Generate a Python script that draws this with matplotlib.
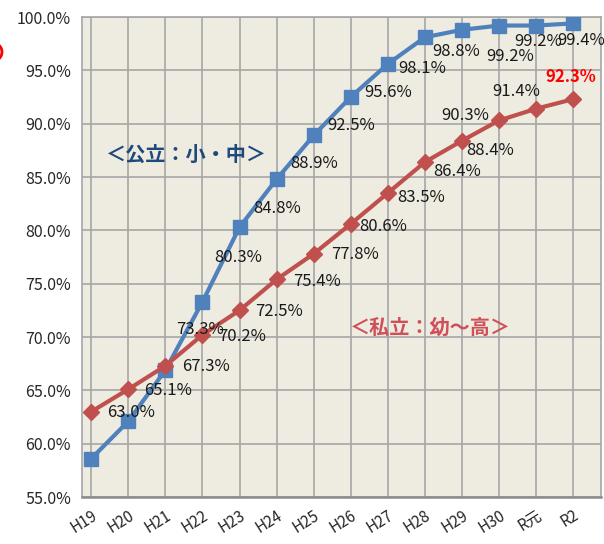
import matplotlib.pyplot as plt
from matplotlib.patches import Circle

plt.rcParams['font.family'] = ['Noto Sans CJK JP', 'DejaVu Sans']

years = ['H19', 'H20', 'H21', 'H22', 'H23', 'H24', 'H25', 'H26', 'H27', 'H28',
         'H29', 'H30', 'R元', 'R2']
public = [58.6, 62.1, 66.9, 73.3, 80.3, 84.8, 88.9, 92.5, 95.6, 98.1, 98.8, 99.2, 99.2, 99.4]
private = [63.0, 65.1, 67.3, 70.2, 72.5, 75.4, 77.8, 80.6, 83.5, 86.4, 88.4, 90.3, 91.4, 92.3]

# label offsets in pixels (dx, dy; dy down in image)
pub_off = [None, None, None, (-2, 28), (-1, 30), (0, 29), (0, 28), (0, 29), (0, 29),
           (-3, 31), (-6, 22), (11, 31), (2, 16), (8, 17)]
priv_off = [(40, 1), (40, 1), (41, 1), (40, 2), (39, 1), (40, 2), (41, 1), (32, 3),
            (33, 5), (32, 9), (28, 10), (-34, -5), (-20, -17), (-2, -22)]

blue = '#4F81BD'
red = '#C0504D'

fig = plt.figure(figsize=(6.04, 5.44), dpi=100)
ax = fig.add_axes([82 / 604, 47 / 544, 519 / 604, 480 / 544])
ax.set_facecolor('#EEECE1')

x = list(range(len(years)))
ax.plot(x, public, color=blue, lw=3, marker='s', ms=9.5, zorder=3)
ax.plot(x, private, color=red, lw=3, marker='D', ms=8, zorder=3)

for i, v in enumerate(public):
    if pub_off[i] is None:
        continue
    dx, dy = pub_off[i]
    ax.annotate(f'{v:.1f}%', (i, v), xytext=(dx, -dy), textcoords='offset pixels',
                ha='center', va='center', fontsize=12, color='#1a1a1a', zorder=4)
for i, v in enumerate(private):
    dx, dy = priv_off[i]
    last = i == len(private) - 1
    ax.annotate(f'{v:.1f}%', (i, v), xytext=(dx, -dy), textcoords='offset pixels',
                ha='center', va='center', fontsize=12,
                color='#FF0000' if last else '#1a1a1a',
                fontweight='bold' if last else 'normal', zorder=4)

ax.text(2.56, 87.1, '＜公立：小・中＞', color='#1F497D', fontsize=14.5,
        ha='center', va='center', fontweight='bold')
ax.text(9.14, 70.9, '＜私立：幼～高＞', color='#D0505A', fontsize=14.5,
        ha='center', va='center', fontweight='bold')

ax.set_xlim(-0.25, 13.75)
ax.set_ylim(55, 100)
ax.set_yticks(range(55, 101, 5))
ax.set_yticklabels([f'{t:.1f}%' for t in range(55, 101, 5)], fontsize=11.5, color='#262626')
ax.set_xticks(x)
ax.set_xticklabels(years, fontsize=11, color='#262626', rotation=32,
                   ha='right', rotation_mode='anchor')
ax.tick_params(length=0, pad=8)
ax.tick_params(axis='x', pad=7)
ax.grid(True, color='#A6A6A6', lw=1.2)
ax.set_axisbelow(True)
for s in ax.spines.values():
    s.set_color('#A6A6A6')
    s.set_linewidth(1.2)
ax.spines['bottom'].set_color('#8C8C8C')
ax.spines['bottom'].set_linewidth(1.8)

fig.patches.append(Circle((-9 / 604, 1 - 52 / 544), 11 / 604, transform=fig.transFigure,
                          fill=False, edgecolor='#FF0000', lw=2))

fig.savefig('out.png', dpi=100)
